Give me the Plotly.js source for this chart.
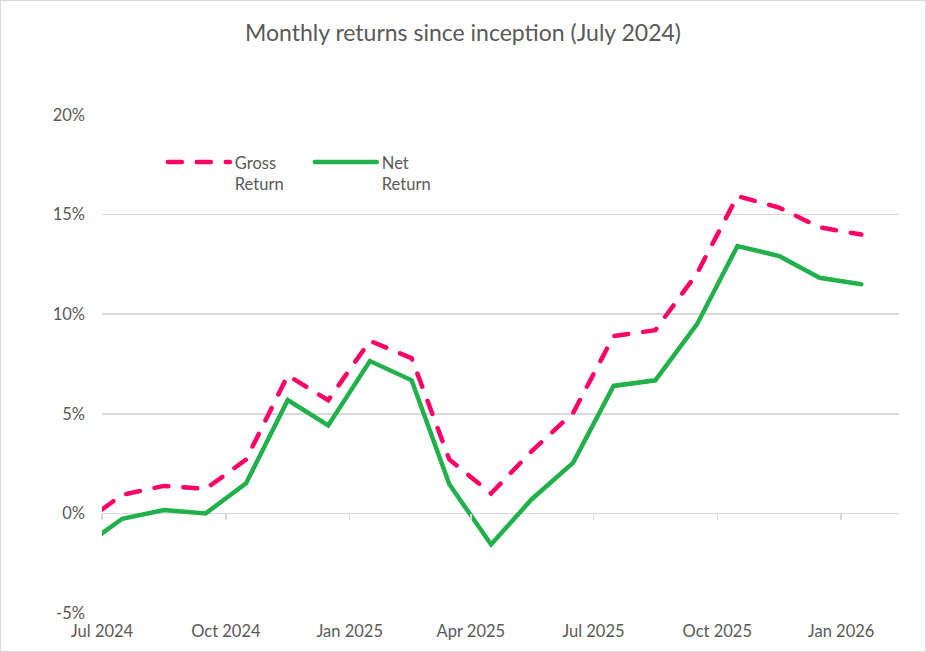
<!DOCTYPE html>
<html>
<head>
<meta charset="utf-8">
<script src="https://cdn.plot.ly/plotly-3.0.1.min.js"></script>
<style>
  html, body { margin: 0; padding: 0; background: #fff; }
  #wrap { position: relative; width: 926px; height: 652px; }
  #chart { width: 926px; height: 652px; }
  #border { position: absolute; left: 0; top: 0; width: 926px; height: 652px; box-sizing: border-box; border: 1px solid #d9d9d9; pointer-events: none; }
  .js-line { stroke-linecap: round; }
</style>
</head>
<body>
<div id="wrap">
  <div id="chart"></div>
  <div id="border"></div>
</div>
<script>
// Observation dates (inception, then mid-month readings)
const dates = ['2024-07-01','2024-07-16','2024-08-16','2024-09-16','2024-10-16','2024-11-16','2024-12-16',
  '2025-01-16','2025-02-16','2025-03-16','2025-04-16','2025-05-16','2025-06-16','2025-07-16',
  '2025-08-16','2025-09-16','2025-10-16','2025-11-16','2025-12-16','2026-01-16'];
// Cumulative returns, percent
const grossReturn = [0.2, 0.93, 1.38, 1.23, 2.70, 6.93, 5.68, 8.66, 7.79, 2.71, 1.0, 3.11, 5.05, 8.9, 9.2, 12.05, 15.93, 15.35, 14.36, 14.0];
const netReturn = [-1.0, -0.27, 0.17, 0.0, 1.51, 5.69, 4.42, 7.65, 6.68, 1.46, -1.56, 0.70, 2.55, 6.40, 6.68, 9.5, 13.42, 12.92, 11.83, 11.5];
// Axis ticks
const xTickVals = ['2024-07-01','2024-10-01','2025-01-01','2025-04-01','2025-07-01','2025-10-01','2026-01-01'];
const xTickText = ['Jul 2024','Oct 2024','Jan 2025','Apr 2025','Jul 2025','Oct 2025','Jan 2026'];
const yTickVals = [-5, 0, 5, 10, 15, 20];
const yTickText = ['-5%','0%','5%','10%','15%','20%'];

const fontFam = 'Lato, "Open Sans", sans-serif';
const grey = '#595959';
const gridC = '#d9d9d9';

const traces = [
  { x: dates, y: grossReturn, type: 'scatter', mode: 'lines', name: 'Gross<br>Return',
    line: { color: '#ff0066', width: 4.5, dash: '14px,15px' }, hoverinfo: 'x+y' },
  { x: dates, y: netReturn, type: 'scatter', mode: 'lines', name: 'Net<br>Return',
    line: { color: '#22b04b', width: 4.5 }, hoverinfo: 'x+y' }
];

const layout = {
  width: 926, height: 652,
  margin: { l: 102, r: 27, t: 115, b: 39 },
  paper_bgcolor: '#fff', plot_bgcolor: '#fff',
  font: { family: fontFam, color: grey, size: 16.5 },
  title: { text: 'Monthly returns since inception (July 2024)', font: { family: fontFam, size: 23, color: grey },
    x: 0.5, xref: 'container', y: 1 - 33/652, yref: 'container', yanchor: 'middle' },
  xaxis: {
    type: 'date', range: ['2024-07-01', '2026-02-13'],
    tickvals: xTickVals, ticktext: xTickText,
    showgrid: false, zeroline: false, showline: false, ticks: '',
    ticklabelstandoff: 6, tickfont: { size: 16.5, color: grey }
  },
  xaxis2: {
    type: 'date', matches: 'x', overlaying: 'x', anchor: 'free', position: 0.2,
    tickvals: xTickVals, showticklabels: false, showgrid: false, zeroline: false, showline: false,
    ticks: 'outside', ticklen: 6, tickwidth: 1.5, tickcolor: gridC
  },
  yaxis: {
    range: [-5, 20], tickvals: yTickVals, ticktext: yTickText,
    showgrid: true, gridcolor: gridC, gridwidth: 1.5,
    zeroline: true, zerolinecolor: gridC, zerolinewidth: 1.5,
    showline: false, ticks: '', ticklabelstandoff: 16, tickfont: { size: 16.5, color: grey }
  },
  showlegend: true,
  legend: {
    orientation: 'h', x: 0.0763, xanchor: 'left', y: 0.94, yanchor: 'top',
    valign: 'top', font: { size: 16.5, color: grey }, bgcolor: 'rgba(0,0,0,0)',
    entrywidth: 70, entrywidthmode: 'pixels', itemwidth: 62
  }
};

// dummy trace on xaxis2 so its ticks are drawn
traces.push({ x: [dates[0]], y: [null], xaxis: 'x2', yaxis: 'y', showlegend: false, hoverinfo: 'skip', mode: 'lines' });

Plotly.newPlot('chart', traces, layout, { displayModeBar: false, staticPlot: true });
</script>
</body>
</html>
